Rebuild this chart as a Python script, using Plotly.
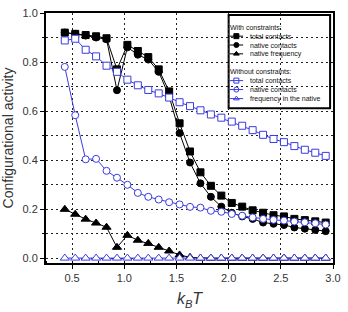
import plotly.graph_objects as go

# ---------------- data ----------------
kT = [0.43, 0.53, 0.63, 0.73, 0.83, 0.93, 1.03, 1.13, 1.23, 1.33, 1.43, 1.53, 1.63,
      1.73, 1.83, 1.93, 2.03, 2.13, 2.23, 2.33, 2.43, 2.53, 2.63, 2.73, 2.83, 2.93]

wc_total = [0.92, 0.915, 0.91, 0.905, 0.897, 0.77, 0.87, 0.845, 0.82, 0.77, 0.68, 0.55, 0.435,
            0.35, 0.295, 0.255, 0.225, 0.21, 0.195, 0.185, 0.175, 0.17, 0.16, 0.155, 0.15, 0.145]
wc_native = [0.92, 0.915, 0.908, 0.90, 0.893, 0.685, 0.86, 0.83, 0.81, 0.76, 0.66, 0.51, 0.39,
             0.305, 0.25, 0.21, 0.185, 0.17, 0.16, 0.145, 0.14, 0.135, 0.125, 0.12, 0.115, 0.11]
wc_freq = [0.199, 0.179, 0.159, 0.143, 0.126, 0.044, 0.093, 0.073, 0.06, 0.044, 0.029, 0.013, 0.003,
           0.0, 0.0, 0.0, 0.0, 0.0, 0.0, 0.0, 0.0, 0.0, 0.0, 0.0, 0.0, 0.0]

nc_total = [0.888, 0.895, 0.85, 0.823, 0.785, 0.76, 0.728, 0.705, 0.686, 0.672, 0.655, 0.636, 0.62,
            0.603, 0.586, 0.573, 0.557, 0.54, 0.522, 0.503, 0.486, 0.473, 0.457, 0.442, 0.43, 0.417]
nc_native = [0.78, 0.583, 0.403, 0.405, 0.356, 0.328, 0.299, 0.266, 0.25, 0.239, 0.228, 0.219, 0.209,
             0.206, 0.193, 0.189, 0.18, 0.173, 0.166, 0.16, 0.156, 0.153, 0.149, 0.146, 0.142, 0.137]
nc_freq = [0.0] * 26

x_ticks = [0.5, 1.0, 1.5, 2.0, 2.5, 3.0]
y_ticks = [0.0, 0.2, 0.4, 0.6, 0.8, 1.0]

BLACK = "#000000"
BLUE = "#3b3be0"

groups = [
    ("With constraints:", [
        ("total contacts", wc_total, "square", BLACK, BLACK),
        ("native contacts", wc_native, "circle", BLACK, BLACK),
        ("native frequency", wc_freq, "triangle-up", BLACK, BLACK),
    ]),
    ("Without constraints:", [
        ("total contacts", nc_total, "square", BLUE, "white"),
        ("native contacts", nc_native, "circle", BLUE, "white"),
        ("frequency in the native", nc_freq, "triangle-up", BLUE, "white"),
    ]),
]

# ---------------- layout constants ----------------
W, H = 348, 312
ML, MR, MT, MB = 42, 9, 7, 48
PW, PH = W - ML - MR, H - MT - MB


def px_x(p):
    return (p - ML) / PW


def px_y(p):
    return (H - MB - p) / PH


fig = go.Figure()

for title, items in groups:
    for name, vals, sym, col, fill in items:
        fig.add_trace(go.Scatter(
            x=kT, y=vals, mode="lines+markers", name=name, showlegend=False,
            line=dict(color=col, width=1),
            marker=dict(symbol=sym, size=7 if sym != "triangle-up" else 8,
                        color=fill, line=dict(color=col, width=1)),
            cliponaxis=False,
        ))

# ---------------- hand-built legend ----------------
box = dict(x0=231, x1=336, y0=9, y1=105)
fig.add_shape(type="rect", xref="paper", yref="paper",
              x0=px_x(box["x0"]), x1=px_x(box["x1"]),
              y0=px_y(box["y1"]), y1=px_y(box["y0"]),
              line=dict(color="black", width=2), fillcolor="white", layer="between")

row_y = [[21.5, 30.8, 39.9, 49.0], [66.7, 76.5, 85.7, 95.0]]
annotations = []
for (title, items), ys in zip(groups, row_y):
    annotations.append(dict(text=title, xref="paper", yref="paper", x=px_x(231), y=px_y(ys[0]),
                            xanchor="left", yanchor="middle", showarrow=False, borderpad=0,
                            font=dict(size=7, color="#111", family="Arial, Liberation Sans")))
    for (name, vals, sym, col, fill), yy in zip(items, ys[1:]):
        annotations.append(dict(text=name, xref="paper", yref="paper", x=px_x(252), y=px_y(yy),
                                xanchor="left", yanchor="middle", showarrow=False, borderpad=0,
                                font=dict(size=7, color="#111", family="Arial, Liberation Sans")))
        fig.add_shape(type="line", xref="paper", yref="paper",
                      x0=px_x(232), x1=px_x(246), y0=px_y(yy), y1=px_y(yy),
                      line=dict(color=col, width=1), layer="above")
        fig.add_trace(go.Scatter(
            x=[px_x(239)], y=[px_y(yy)], mode="markers",
            marker=dict(symbol=sym, size=5, color=fill, line=dict(color=col, width=1)),
            xaxis="x2", yaxis="y2", showlegend=False, hoverinfo="skip", cliponaxis=False))

grid_style = dict(gridcolor="#222", griddash="2px,3px", gridwidth=1)

fig.update_layout(
    width=W, height=H,
    margin=dict(l=ML, r=MR, t=MT, b=MB),
    paper_bgcolor="white", plot_bgcolor="white",
    font=dict(family="Arial, Liberation Sans", color="#222"),
    showlegend=False,
    annotations=annotations,
    xaxis=dict(
        range=[0.25, 3.0], tickvals=x_ticks, ticktext=[f"{v:.1f}" for v in x_ticks],
        showgrid=True, **grid_style, zeroline=False,
        showline=True, linecolor="black", linewidth=2, mirror=True,
        ticks="outside", ticklen=4, tickwidth=1, tickcolor="black",
        tickfont=dict(size=11, color="#333"),
        minor=dict(dtick=0.25, tick0=0.25, ticks="inside", ticklen=2, tickcolor="black", showgrid=False),
        title=dict(text="<i>k</i><sub><i>B</i></sub><i>T</i>", font=dict(size=16, color="#333"), standoff=10),
    ),
    yaxis=dict(
        range=[-0.02, 1.0], tickvals=y_ticks, ticktext=[f"{v:.1f}" for v in y_ticks],
        showgrid=True, **grid_style, zeroline=False,
        showline=True, linecolor="black", linewidth=2, mirror=True,
        ticks="outside", ticklen=4, tickwidth=1, tickcolor="black",
        tickfont=dict(size=11, color="#333"),
        minor=dict(dtick=0.1, tick0=0.0, ticks="outside", ticklen=2, tickcolor="black",
                   showgrid=True, **grid_style),
        title=dict(text="Configurational activity", font=dict(size=14, color="#333"), standoff=6),
    ),
    xaxis2=dict(range=[0, 1], overlaying="x", visible=False, fixedrange=True),
    yaxis2=dict(range=[0, 1], overlaying="y", visible=False, fixedrange=True),
)

fig.write_html("out.html")
